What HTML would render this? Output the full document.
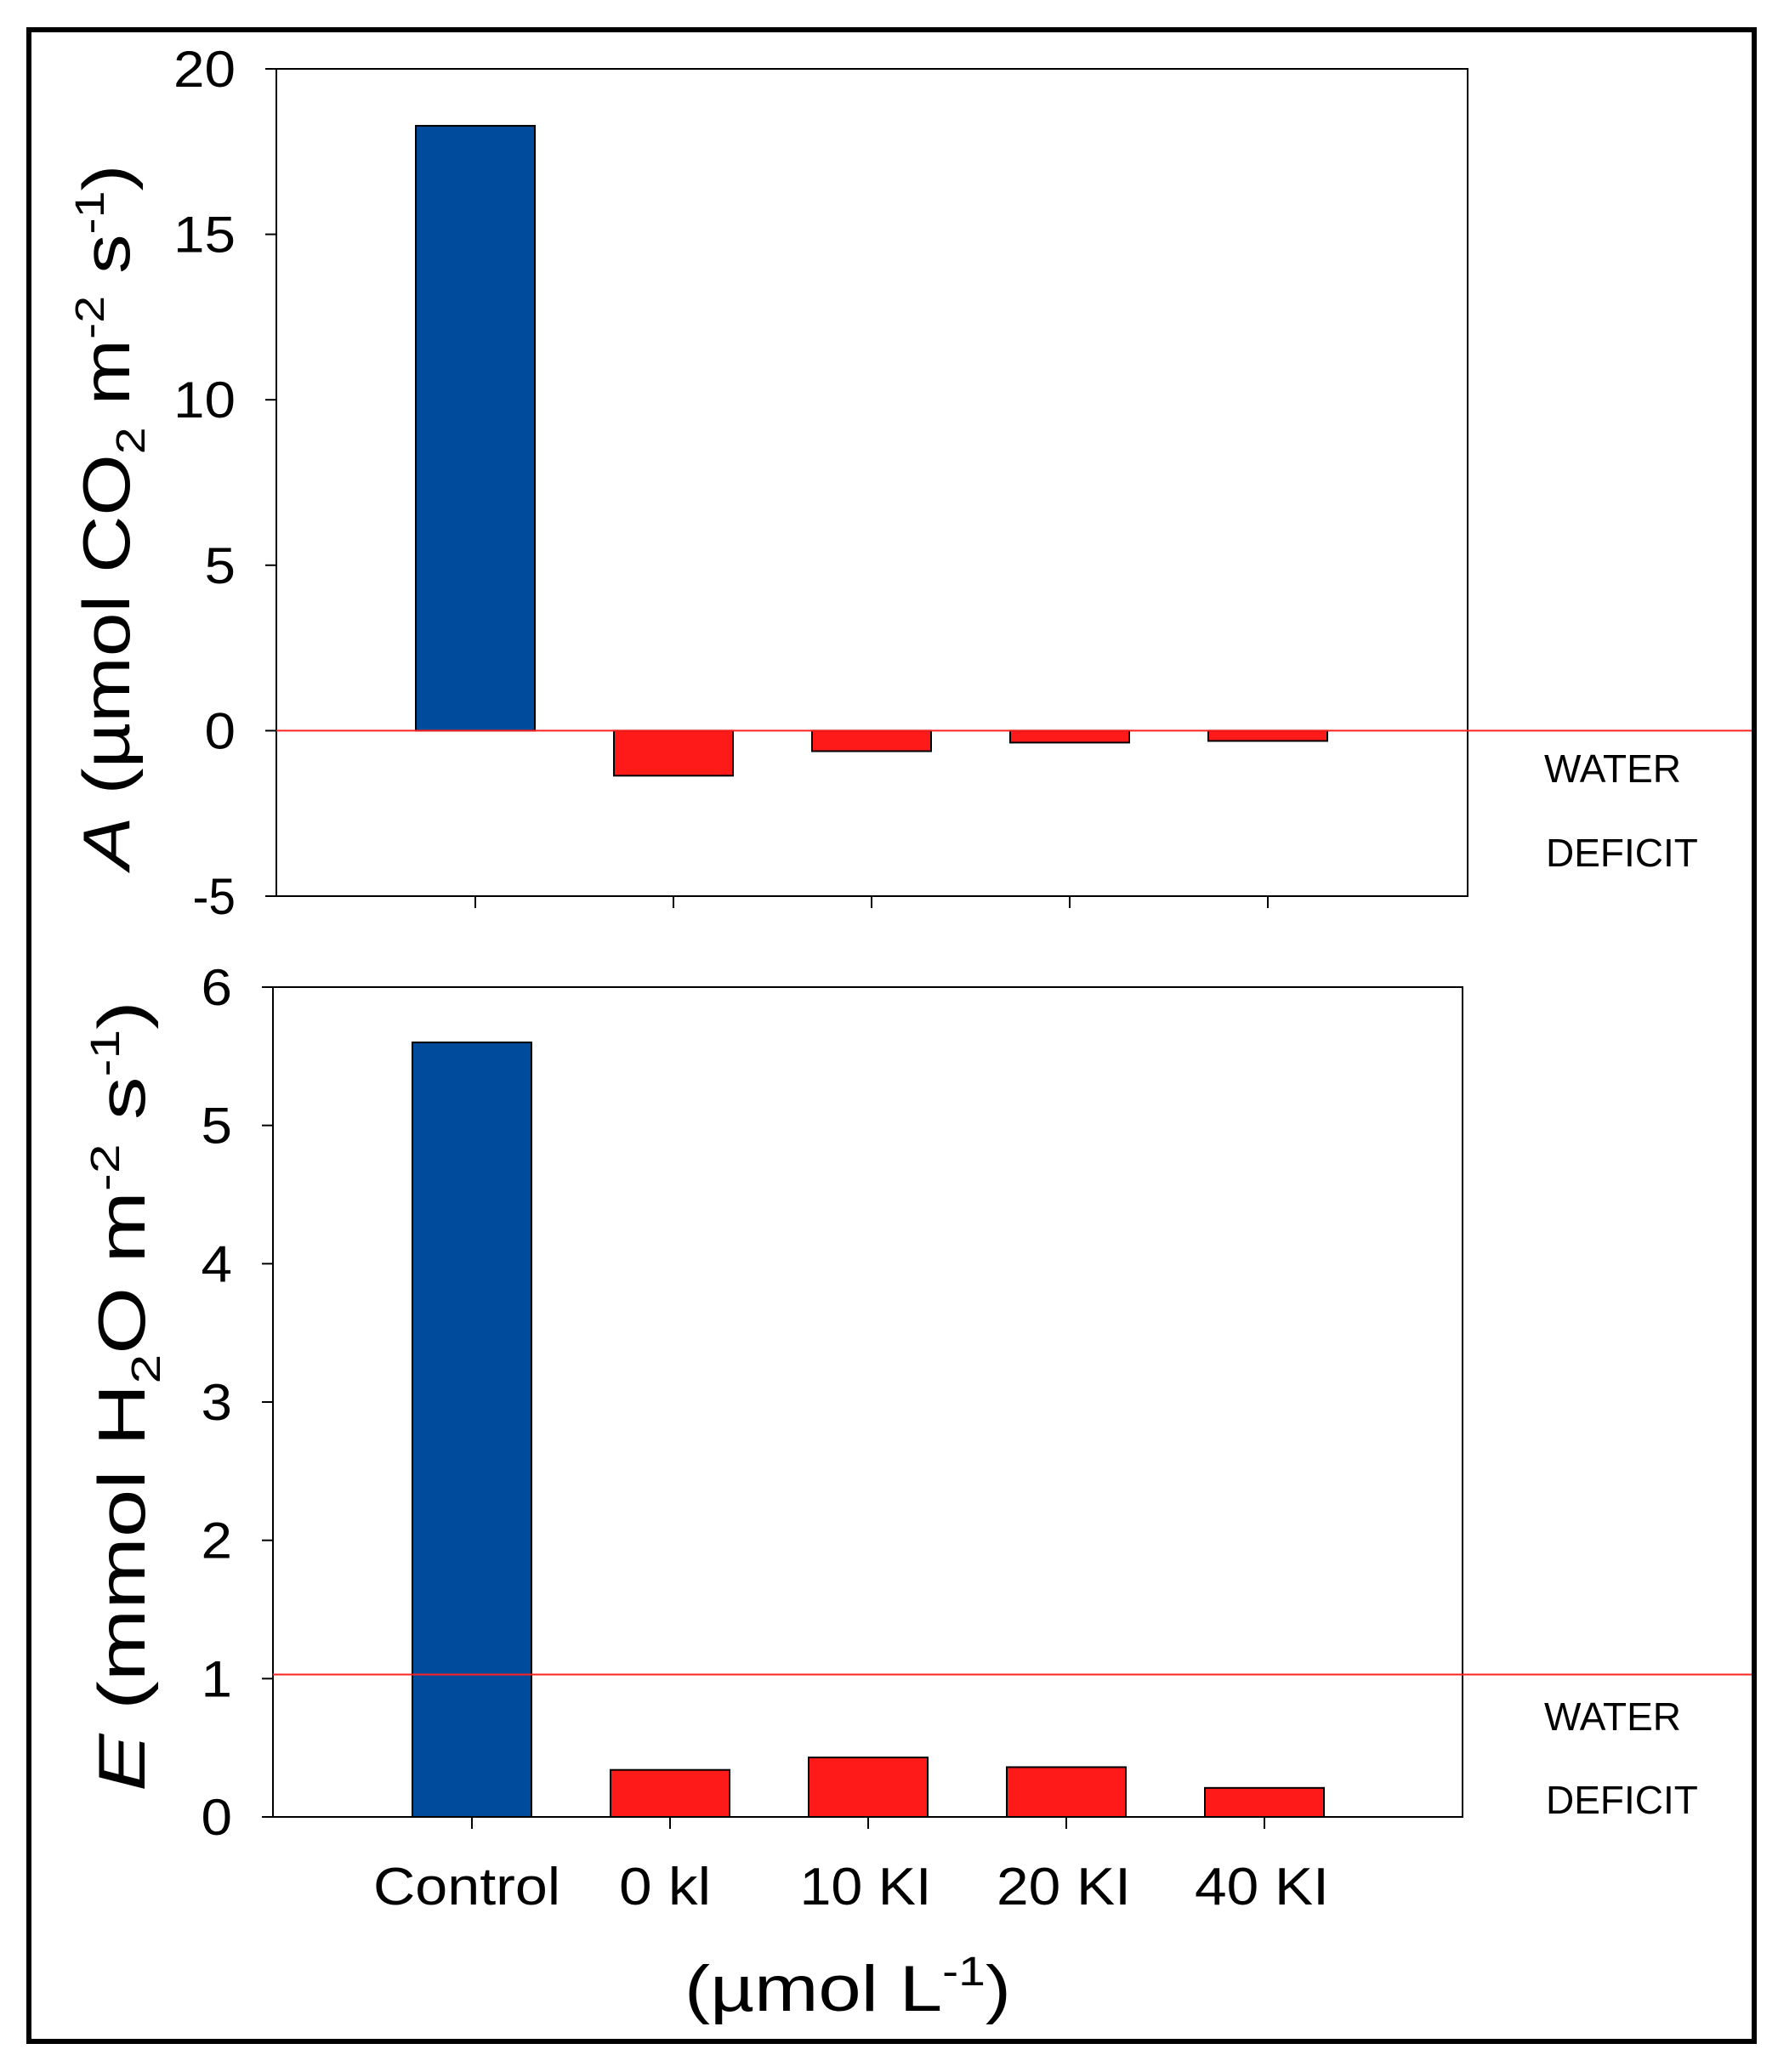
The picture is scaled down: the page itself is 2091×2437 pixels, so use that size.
<!DOCTYPE html>
<html><head><meta charset="utf-8"><style>
html,body{margin:0;padding:0;background:#fff}
svg{display:block;font-family:"Liberation Sans",Arial,sans-serif}
</style></head><body>
<svg id="chart" width="2091" height="2437" viewBox="0 0 2091 2437">
<rect x="34" y="35" width="2029" height="2366" fill="none" stroke="#000" stroke-width="6"/>
<g id="top"></g>
<g id="bot"></g>
<text x="549" y="2240" font-size="62" text-anchor="middle" textLength="220" lengthAdjust="spacingAndGlyphs">Control</text>
<text x="782" y="2240" font-size="62" text-anchor="middle" textLength="108" lengthAdjust="spacingAndGlyphs">0 kl</text>
<text x="1018" y="2240" font-size="62" text-anchor="middle" textLength="155" lengthAdjust="spacingAndGlyphs">10 KI</text>
<text x="1251" y="2240" font-size="62" text-anchor="middle" textLength="158" lengthAdjust="spacingAndGlyphs">20 KI</text>
<text x="1484" y="2240" font-size="62" text-anchor="middle" textLength="158" lengthAdjust="spacingAndGlyphs">40 KI</text>
<text x="997" y="2365" font-size="76" text-anchor="middle" textLength="384" lengthAdjust="spacingAndGlyphs">(µmol L<tspan font-size="48" dy="-30">-1</tspan><tspan dy="30">)</tspan></text>
<text transform="translate(152,608) rotate(-90)" font-size="78" text-anchor="middle" textLength="829" lengthAdjust="spacingAndGlyphs"><tspan font-style="italic">A</tspan> (µmol CO<tspan font-size="48" dy="18">2</tspan><tspan dy="-18"> m</tspan><tspan font-size="48" dy="-30">-2</tspan><tspan dy="30"> s</tspan><tspan font-size="48" dy="-30">-1</tspan><tspan dy="30">)</tspan></text>
<text transform="translate(170,1642) rotate(-90)" font-size="78" text-anchor="middle" textLength="930" lengthAdjust="spacingAndGlyphs"><tspan font-style="italic">E</tspan> (mmol H<tspan font-size="48" dy="18">2</tspan><tspan dy="-18">O m</tspan><tspan font-size="48" dy="-30">-2</tspan><tspan dy="30"> s</tspan><tspan font-size="48" dy="-30">-1</tspan><tspan dy="30">)</tspan></text>
<text x="1816" y="920" font-size="46">WATER</text>
<text x="1818" y="1019" font-size="46">DEFICIT</text>
<text x="1816" y="2035" font-size="46">WATER</text>
<text x="1818" y="2133" font-size="46">DEFICIT</text>
</svg>
<script>
const categories = ["Control","0 kl","10 KI","20 KI","40 KI"];
const photosynthesisA = [18.28, -1.36, -0.62, -0.36, -0.31];
const transpirationE = [5.60, 0.34, 0.43, 0.36, 0.21];
const ticksA = [-5, 0, 5, 10, 15, 20];
const ticksE = [0, 1, 2, 3, 4, 5, 6];
const thresholdA = 0;
const thresholdE = 1.03;

const NS = "http://www.w3.org/2000/svg";
function mk(parent, tag, attrs){const e=document.createElementNS(NS,tag);for(const k in attrs)e.setAttribute(k,attrs[k]);parent.appendChild(e);return e;}

function panel(g, cfg){
  const y = v => cfg.top + (cfg.max - v) / (cfg.max - cfg.min) * (cfg.bottom - cfg.top);
  const xc = i => cfg.left + 234 + 233 * i;
  const frame = mk(g,'rect',{x:cfg.left,y:cfg.top,width:cfg.right-cfg.left,height:cfg.bottom-cfg.top,fill:'none',stroke:'#000','stroke-width':2});
  
  
  cfg.ticks.forEach(t=>{
    const tk = mk(g,'line',{x1:cfg.left-13,x2:cfg.left,y1:y(t),y2:y(t),stroke:'#000','stroke-width':2});
    
    
    const s = String(t);
    const len = s.replace('-','').length * 36.5 + (s.includes('-') ? 14 : 0);
    const lb = mk(g,'text',{x:cfg.left-48,y:y(t)+21,'font-size':60,'text-anchor':'end',textLength:len,lengthAdjust:'spacingAndGlyphs'});
    lb.textContent = t;
    
    
  });
  cfg.values.forEach((v,i)=>{
    const y0 = y(0), y1 = y(v);
    const r = mk(g,'rect',{x:xc(i)-70,y:Math.min(y0,y1),width:140,height:Math.abs(y1-y0),fill:i===0?'#004b9c':'#ff1a1a',stroke:'#000','stroke-width':2});
    
    
    const tk = mk(g,'line',{x1:xc(i),x2:xc(i),y1:cfg.bottom,y2:cfg.bottom+14,stroke:'#000','stroke-width':2});
    
    
  });
  const ln = mk(g,'line',{x1:cfg.left,x2:2060,y1:y(cfg.threshold),y2:y(cfg.threshold),stroke:'#ff2020','stroke-width':2});
  
  
}
panel(document.getElementById('top'),{left:325,right:1726,top:81,bottom:1054,min:-5,max:20,ticks:ticksA,values:photosynthesisA,threshold:thresholdA});
panel(document.getElementById('bot'),{left:321,right:1720,top:1161,bottom:2137,min:0,max:6,ticks:ticksE,values:transpirationE,threshold:thresholdE});
</script>
</body></html>
